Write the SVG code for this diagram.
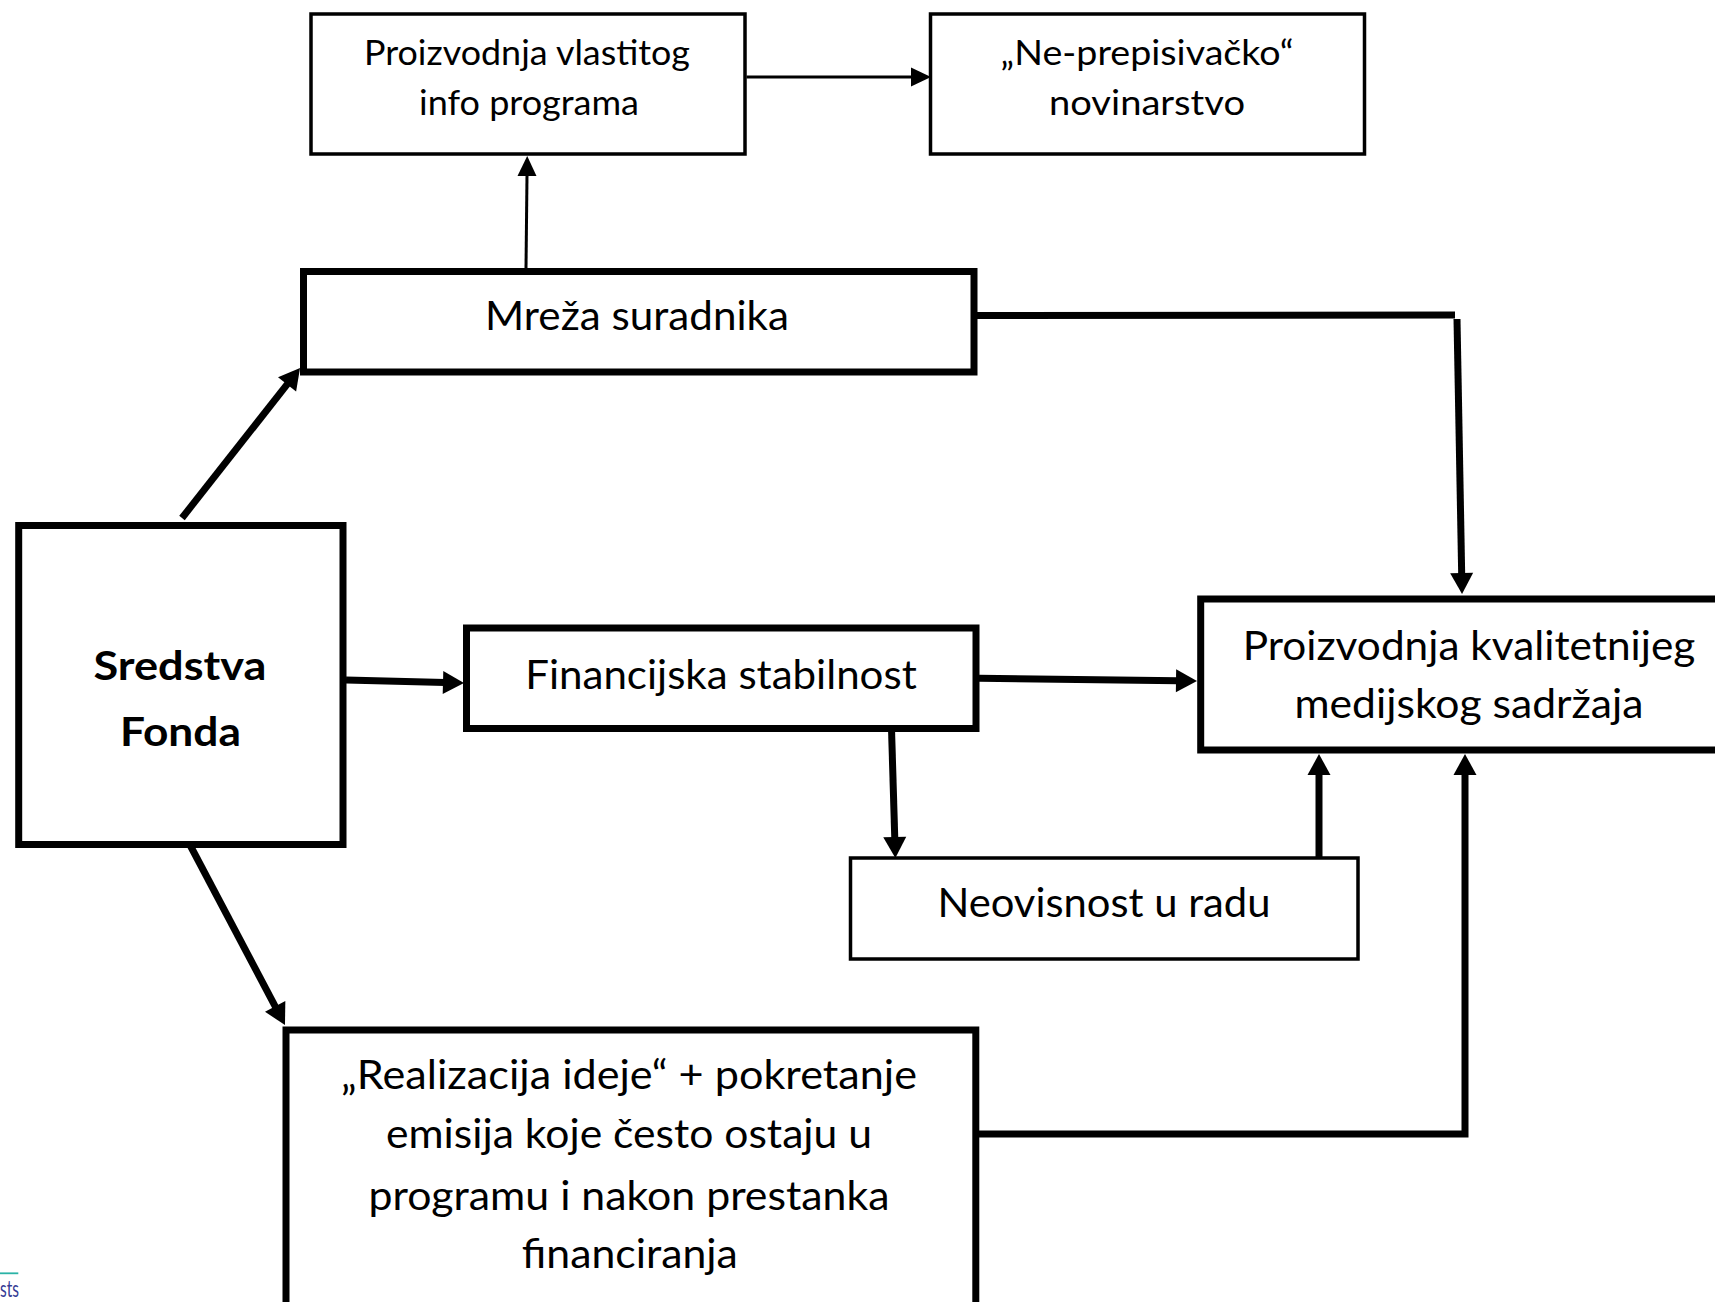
<svg xmlns="http://www.w3.org/2000/svg" width="1715" height="1302" viewBox="0 0 1715 1302">
<style>
.bx{fill:#fff;stroke:#000}
.thin{stroke-width:3.5}
.thick{stroke-width:7}
.t{font-family:Lato,"Open Sans","Liberation Sans",sans-serif;fill:#000;text-anchor:middle}
.s1{font-size:34px}
.s2{font-size:40px}
.sb{font-size:40px;font-weight:bold}
.c{fill:none;stroke:#000;stroke-linejoin:miter}
.cw{stroke-width:7}
.cn{stroke-width:3}
</style>
<defs>
<marker id="ah" markerUnits="userSpaceOnUse" markerWidth="22" markerHeight="24" refX="2" refY="11.5" orient="auto" overflow="visible">
<path d="M0,0 L21,11.5 L0,23 z" fill="#000"/>
</marker>
<marker id="ahs" markerUnits="userSpaceOnUse" markerWidth="21" markerHeight="20" refX="1" refY="9.5" orient="auto" overflow="visible">
<path d="M0,0 L20,9.5 L0,19 z" fill="#000"/>
</marker>
</defs>
<rect width="1715" height="1302" fill="#fff"/>

<g id="connectors">
<line class="c cn" x1="746.5" y1="77" x2="912" y2="77" marker-end="url(#ahs)"/>
<line class="c cn" x1="526" y1="268" x2="527" y2="175" marker-end="url(#ahs)"/>
<line class="c cw" x1="182" y1="518" x2="288.3" y2="382.9" marker-end="url(#ah)"/>
<line class="c cw" x1="977" y1="315.5" x2="1455" y2="315"/>
<line class="c cw" x1="1457" y1="319" x2="1461.7" y2="575" marker-end="url(#ah)"/>
<line class="c cw" x1="346" y1="680" x2="445" y2="682.5" marker-end="url(#ah)"/>
<line class="c cw" x1="979" y1="678.3" x2="1178" y2="680.8" marker-end="url(#ah)"/>
<line class="c cw" x1="891.6" y1="732" x2="894.8" y2="839" marker-end="url(#ah)"/>
<line class="c cw" x1="1319" y1="857" x2="1319" y2="773" marker-end="url(#ah)"/>
<polyline class="c cw" points="978,1134 1465,1134 1465,773" marker-end="url(#ah)"/>
<line class="c cw" x1="190" y1="845" x2="276.1" y2="1008.2" marker-end="url(#ah)"/>
</g>

<g id="node-vlastiti-program">
<rect class="bx thin" x="311" y="14" width="434" height="140"/>
<text class="t s1" x="527" y="65" textLength="326" lengthAdjust="spacingAndGlyphs">Proizvodnja vlastitog</text>
<text class="t s1" x="529" y="115" textLength="220" lengthAdjust="spacingAndGlyphs">info programa</text>
</g>

<g id="node-novinarstvo">
<rect class="bx thin" x="930.5" y="14" width="434" height="140"/>
<text class="t s1" x="1147" y="65" textLength="293" lengthAdjust="spacingAndGlyphs">„Ne-prepisivačko“</text>
<text class="t s1" x="1147" y="115" textLength="196" lengthAdjust="spacingAndGlyphs">novinarstvo</text>
</g>

<g id="node-mreza">
<rect class="bx thick" x="303.5" y="271.5" width="670.5" height="100.5"/>
<text class="t s2" x="637" y="330" textLength="304" lengthAdjust="spacingAndGlyphs">Mreža suradnika</text>
</g>

<g id="node-sredstva">
<rect class="bx thick" x="18.7" y="525.5" width="324.3" height="319"/>
<text class="t sb" x="180" y="680" textLength="173" lengthAdjust="spacingAndGlyphs">Sredstva</text>
<text class="t sb" x="180.4" y="745.7" textLength="121" lengthAdjust="spacingAndGlyphs">Fonda</text>
</g>

<g id="node-financijska">
<rect class="bx thick" x="466.5" y="628" width="509.5" height="100.5"/>
<text class="t s2" x="721" y="689.3" textLength="391.5" lengthAdjust="spacingAndGlyphs">Financijska stabilnost</text>
</g>

<g id="node-kvaliteta">
<rect class="bx thick" x="1200.7" y="599" width="540" height="151"/>
<text class="t s2" x="1469" y="660" textLength="452.6" lengthAdjust="spacingAndGlyphs">Proizvodnja kvalitetnijeg</text>
<text class="t s2" x="1469" y="718" textLength="349" lengthAdjust="spacingAndGlyphs">medijskog sadržaja</text>
</g>

<g id="node-neovisnost">
<rect class="bx thin" x="850.5" y="858" width="507.5" height="101"/>
<text class="t s2" x="1104" y="916.7" textLength="333" lengthAdjust="spacingAndGlyphs">Neovisnost u radu</text>
</g>

<g id="node-realizacija">
<rect class="bx thick" x="286" y="1030" width="689.8" height="290"/>
<text class="t s2" x="629" y="1089" textLength="576" lengthAdjust="spacingAndGlyphs">„Realizacija ideje“ + pokretanje</text>
<text class="t s2" x="629" y="1148.3" textLength="486" lengthAdjust="spacingAndGlyphs">emisija koje često ostaju u</text>
<text class="t s2" x="629" y="1210" textLength="521" lengthAdjust="spacingAndGlyphs">programu i nakon prestanka</text>
<text class="t s2" x="629.8" y="1268.3" textLength="216" lengthAdjust="spacingAndGlyphs">financiranja</text>
</g>

<g id="logo-fragment">
<line x1="0" y1="1273.3" x2="18.3" y2="1273.3" stroke="#2ab3a6" stroke-width="1.8"/>
<text x="19" y="1297" font-family="Lato,'Open Sans',sans-serif" font-size="24" fill="#363c95" text-anchor="end" textLength="19" lengthAdjust="spacingAndGlyphs">sts</text>
</g>
</svg>
